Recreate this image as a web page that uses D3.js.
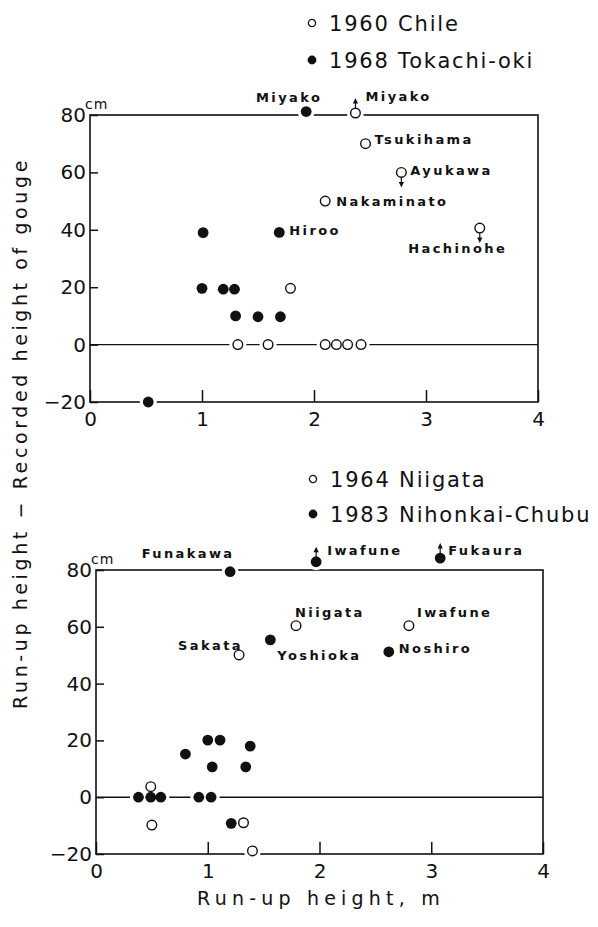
<!DOCTYPE html>
<html>
<head>
<meta charset="utf-8">
<script src="https://cdnjs.cloudflare.com/ajax/libs/d3/7.8.5/d3.min.js"></script>
<style>
  body { margin: 0; background: #fff; }
  svg { display: block; }
  .site { font-family: "DejaVu Sans", sans-serif; font-weight: bold; font-size: 13px; letter-spacing: 2.4px; fill: #111; }
  .legend { font-family: "DejaVu Sans", sans-serif; font-size: 21px; letter-spacing: 1.8px; fill: #111; }
  .title { font-family: "DejaVu Sans", sans-serif; font-size: 19px; letter-spacing: 3.6px; fill: #111; }
  .xtitle { letter-spacing: 5.2px; }
  .unit { font-family: "DejaVu Sans", sans-serif; font-size: 14px; letter-spacing: 1px; fill: #111; }
</style>
</head>
<body>
<div id="chart"></div>
<script>
// ---- upper panel: 1960 Chile (open) and 1968 Tokachi-oki (filled)
const chileX = [2.37, 2.46, 2.78, 2.10, 3.48, 1.79, 1.32, 1.59, 2.10, 2.20, 2.30, 2.42];
const chileY = [80.7, 70, 60, 50, 40.6, 19.6, 0, 0, 0, 0, 0, 0];
const chileSite = ["Miyako", "Tsukihama", "Ayukawa", "Nakaminato", "Hachinohe", "", "", "", "", "", "", ""];
const chileArrow = ["up", "", "down", "", "down", "", "", "", "", "", "", ""];

const tokachiX = [1.93, 1.69, 1.01, 1.00, 1.19, 1.29, 1.30, 1.50, 1.70, 0.52];
const tokachiY = [81.2, 39.1, 39, 19.6, 19.3, 19.3, 10, 9.7, 9.7, -20];
const tokachiSite = ["Miyako", "Hiroo", "", "", "", "", "", "", "", ""];
const tokachiArrow = ["", "", "", "", "", "", "", "", "", ""];

// ---- lower panel: 1964 Niigata (open) and 1983 Nihonkai-Chubu (filled)
const niigataX = [1.79, 2.80, 1.28, 0.49, 0.50, 1.32, 1.40];
const niigataY = [60.4, 60.4, 50.1, 3.7, -9.8, -9, -18.9];
const niigataSite = ["Niigata", "Iwafune", "Sakata", "", "", "", ""];
const niigataArrow = ["", "", "", "", "", "", ""];

const chubuX = [1.20, 1.97, 3.08, 1.56, 2.62, 0.80, 1.00, 1.11, 1.04, 1.38, 1.34, 0.38, 0.49, 0.58, 0.92, 1.03, 1.21];
const chubuY = [79.4, 82.9, 84.2, 55.4, 51.2, 15.2, 20.1, 20.1, 10.7, 18, 10.7, 0, 0, 0, 0, 0, -9.2];
const chubuSite = ["Funakawa", "Iwafune", "Fukaura", "Yoshioka", "Noshiro", "", "", "", "", "", "", "", "", "", "", "", ""];
const chubuArrow = ["", "up", "up", "", "", "", "", "", "", "", "", "", "", "", "", "", ""];

const xTicks = [0, 1, 2, 3, 4];
const yTicks = [-20, 0, 20, 40, 60, 80];
const legendTop = ["1960 Chile", "1968 Tokachi-oki"];
const legendBottom = ["1964 Niigata", "1983 Nihonkai-Chubu"];
const yTitle = "Run-up height \u2212 Recorded height of gouge";
const xTitle = "Run-up height,  m";

// label placement: [dx, dy, anchor] relative to the marker centre
const labelPos = {
  "open:Miyako": [10, -12, "start"],
  "open:Tsukihama": [9, 0, "start"],
  "open:Ayukawa": [9, 3, "start"],
  "open:Nakaminato": [11, 5, "start"],
  "open:Hachinohe": [-22, 25, "middle"],
  "filled:Miyako": [-17, -10, "middle"],
  "filled:Hiroo": [10, 3, "start"],
  "filled:Funakawa": [-42, -14, "middle"],
  "filled:Iwafune": [11, -7, "start"],
  "filled:Fukaura": [8, -3, "start"],
  "filled:Yoshioka": [7, 20, "start"],
  "filled:Noshiro": [10, 1, "start"],
  "open:Niigata": [-1, -9, "start"],
  "open:Iwafune": [8, -9, "start"],
  "open:Sakata": [4, -5, "end"]
};

const width = 598, height = 927;
const ink = "#111";
const r = 5.4;

const svg = d3.select("#chart").append("svg")
  .attr("width", width)
  .attr("height", height);

function toPoints(xs, ys, sites, arrows, kind) {
  return xs.map((v, i) => ({ x: v, y: ys[i], site: sites[i], arrow: arrows[i], kind }));
}

function drawPanel(p) {
  const x = d3.scaleLinear().domain([0, 4]).range([p.left, p.right]);
  const y = d3.scaleLinear().domain([-20, 80]).range([p.bottom, p.top]);
  const g = svg.append("g");

  // frame
  g.append("rect")
    .attr("x", x(0)).attr("y", y(80))
    .attr("width", x(4) - x(0)).attr("height", y(-20) - y(80))
    .attr("fill", "none").attr("stroke", ink).attr("stroke-width", 1.6);

  // zero line
  g.append("line")
    .attr("x1", x(0)).attr("x2", x(4))
    .attr("y1", y(0)).attr("y2", y(0))
    .attr("stroke", ink).attr("stroke-width", 1.4);

  // left axis, ticks pointing in
  const yAxis = g.append("g")
    .attr("transform", `translate(${x(0)},0)`)
    .call(d3.axisLeft(y).tickValues(yTicks).tickSizeInner(-8).tickSizeOuter(0).tickPadding(4));
  yAxis.select(".domain").remove();
  yAxis.selectAll("line").attr("stroke", ink).attr("stroke-width", 1.5);
  yAxis.selectAll("text")
    .attr("font-family", "DejaVu Sans, sans-serif")
    .attr("font-size", 20).attr("fill", ink);

  // bottom axis
  const xAxis = g.append("g")
    .attr("transform", `translate(0,${y(-20)})`)
    .call(d3.axisBottom(x).tickValues(xTicks).tickFormat(d3.format("d")).tickSizeInner(-12).tickSizeOuter(0).tickPadding(10));
  xAxis.select(".domain").remove();
  xAxis.selectAll("line").attr("stroke", ink).attr("stroke-width", 1.5);
  xAxis.selectAll("text")
    .attr("font-family", "DejaVu Sans, sans-serif")
    .attr("font-size", 20).attr("fill", ink);

  // unit
  g.append("text").attr("class", "unit")
    .attr("x", x(0) - 5).attr("y", y(80) - 6)
    .text("cm");

  const pts = p.points;

  // white halos break the frame / zero line round the markers
  g.append("g").selectAll("circle").data(pts).join("circle")
    .attr("cx", d => x(d.x)).attr("cy", d => y(d.y))
    .attr("r", 8.5).attr("fill", "#fff");

  // arrows for values beyond the plotted mark
  const arr = pts.filter(d => d.arrow);
  g.append("g").selectAll("line").data(arr).join("line")
    .attr("x1", d => x(d.x)).attr("x2", d => x(d.x))
    .attr("y1", d => y(d.y))
    .attr("y2", d => y(d.y) + (d.arrow === "up" ? -11 : 11))
    .attr("stroke", ink).attr("stroke-width", 1.2);
  g.append("g").selectAll("path").data(arr).join("path")
    .attr("d", d => {
      const cx = x(d.x), cy = y(d.y), s = d.arrow === "up" ? -1 : 1;
      return `M${cx},${cy + s * 15}L${cx - 2.6},${cy + s * 9.5}L${cx + 2.6},${cy + s * 9.5}Z`;
    })
    .attr("fill", ink);

  // markers
  g.append("g").selectAll("circle").data(pts).join("circle")
    .attr("cx", d => x(d.x)).attr("cy", d => y(d.y))
    .attr("r", d => d.kind === "open" ? r - 0.6 : r)
    .attr("fill", d => d.kind === "open" ? "#fff" : ink)
    .attr("stroke", ink)
    .attr("stroke-width", d => d.kind === "open" ? 1.4 : 0);

  // site names
  g.append("g").selectAll("text").data(pts.filter(d => d.site)).join("text")
    .attr("class", "site")
    .attr("x", d => x(d.x) + labelPos[d.kind + ":" + d.site][0])
    .attr("y", d => y(d.y) + labelPos[d.kind + ":" + d.site][1])
    .attr("text-anchor", d => labelPos[d.kind + ":" + d.site][2])
    .text(d => d.site);

  // legend
  const lg = g.append("g").attr("transform", `translate(${p.legendX},${p.legendY})`);
  p.legend.forEach((t, i) => {
    lg.append("circle")
      .attr("cx", 0).attr("cy", i * p.legendGap - 8)
      .attr("r", i === 0 ? 3.6 : 4.4)
      .attr("fill", i === 0 ? "#fff" : ink)
      .attr("stroke", ink).attr("stroke-width", i === 0 ? 1.3 : 0);
    lg.append("text").attr("class", "legend")
      .attr("x", 17).attr("y", i * p.legendGap)
      .text(t);
  });
}

drawPanel({
  left: 90, right: 538, top: 115, bottom: 402,
  points: toPoints(chileX, chileY, chileSite, chileArrow, "open")
    .concat(toPoints(tokachiX, tokachiY, tokachiSite, tokachiArrow, "filled")),
  legend: legendTop, legendX: 312, legendY: 31, legendGap: 37
});

drawPanel({
  left: 96, right: 543, top: 570, bottom: 854,
  points: toPoints(niigataX, niigataY, niigataSite, niigataArrow, "open")
    .concat(toPoints(chubuX, chubuY, chubuSite, chubuArrow, "filled")),
  legend: legendBottom, legendX: 313, legendY: 487, legendGap: 35
});

// axis titles
svg.append("text").attr("class", "title")
  .attr("transform", "translate(27,433) rotate(-90)")
  .attr("text-anchor", "middle")
  .text(yTitle);

svg.append("text").attr("class", "title xtitle")
  .attr("x", 321).attr("y", 905)
  .attr("text-anchor", "middle")
  .text(xTitle);
</script>
</body>
</html>
